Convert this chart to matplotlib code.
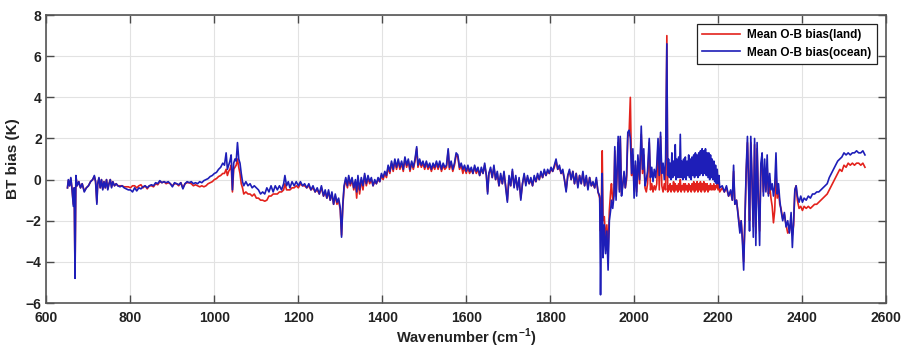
import numpy as np
import matplotlib
matplotlib.use("Agg")
import matplotlib.pyplot as plt

# ---- Mean O-B brightness temperature bias by spectral band ----
# longwave CO2 band
wn_lw = [650, 652, 655, 658, 661, 664, 666, 668, 670, 673, 677, 681, 685, 690, 695,
         700, 705, 710, 714, 717, 720, 722, 725, 728, 731, 734, 737, 740, 743, 746,
         749, 752, 755, 758, 762, 766, 770, 775, 780, 785, 790, 795]
land_lw = [-0.4, -0.05, -0.3, 0.05, -0.5, -1.2, -0.4, -4.6, 0.15, -0.3, -0.1, -0.4,
           -0.2, -0.55, -0.4, -0.3, -0.1, 0.0, 0.15, -0.1, -1.1, -0.2, 0.05, -0.4,
           0.0, -0.45, -0.1, -0.4, 0.0, -0.45, -0.2, 0.0, -0.35, -0.1, -0.3, -0.2,
           -0.3, -0.3, -0.3, -0.35, -0.35, -0.35]
ocean_lw = [-0.4, 0.0, -0.3, 0.1, -0.5, -1.3, -0.4, -4.8, 0.2, -0.3, -0.1, -0.4,
            -0.2, -0.6, -0.4, -0.3, -0.1, 0.0, 0.2, -0.1, -1.2, -0.2, 0.1, -0.4,
            0.0, -0.5, -0.1, -0.4, 0.0, -0.5, -0.2, 0.0, -0.4, -0.1, -0.3, -0.2,
            -0.3, -0.35, -0.3, -0.4, -0.45, -0.5]

# window and ozone region
wn_win = [800, 805, 810, 815, 820, 825, 830, 835, 840, 845, 850, 855, 860, 865, 870,
          875, 880, 885, 890, 895, 900, 905, 910, 915, 920, 925, 930, 935, 940, 945,
          950, 955, 960, 965, 970, 975, 980, 985, 990, 995, 1000, 1005, 1010, 1015,
          1020, 1024, 1028, 1031, 1034, 1037, 1040, 1043, 1046, 1049, 1052, 1055,
          1058, 1061, 1064, 1067]
land_win = [-0.4, -0.3, -0.3, -0.4, -0.3, -0.25, -0.4, -0.3, -0.45, -0.3, -0.3, -0.35,
            -0.2, -0.25, -0.1, -0.15, -0.1, -0.2, -0.15, -0.2, -0.3, -0.2, -0.2, -0.3,
            -0.15, -0.4, -0.2, -0.15, -0.15, -0.2, -0.3, -0.25, -0.3, -0.35, -0.3,
            -0.35, -0.3, -0.2, -0.15, -0.1, 0.0, 0.05, 0.15, 0.2, 0.3, 0.3, 0.5, 0.2,
            0.4, 0.5, 0.7, -0.6, 0.5, 0.6, 0.7, 1.0, 0.6, 0.3, -0.2, -0.4]
ocean_win = [-0.5, -0.6, -0.4, -0.55, -0.4, -0.45, -0.35, -0.3, -0.4, -0.3, -0.25,
             -0.3, -0.15, -0.2, -0.05, -0.15, -0.1, -0.15, -0.1, -0.2, -0.35, -0.15,
             -0.2, -0.25, -0.15, -0.45, -0.2, -0.1, -0.15, -0.1, -0.2, -0.15, -0.2,
             -0.1, -0.15, -0.05, 0.0, 0.05, 0.15, 0.2, 0.3, 0.35, 0.5, 0.6, 0.8, 0.7,
             1.3, 0.5, 0.7, 0.9, 1.2, -0.5, 0.8, 1.0, 0.9, 1.8, 1.0, 0.8, 0.3, -0.1]

# 1070-1400 cm-1
wn_mid = [1070, 1075, 1080, 1085, 1090, 1095, 1100, 1105, 1110, 1115, 1120, 1125, 1130,
          1135, 1140, 1145, 1150, 1155, 1160, 1165, 1168, 1172, 1176, 1180, 1185,
          1190, 1195, 1200, 1205, 1210, 1215, 1220, 1225, 1230, 1235, 1240, 1245,
          1250, 1255, 1260, 1264, 1268, 1272, 1276, 1280, 1284, 1288, 1292, 1296,
          1300, 1303, 1306, 1309, 1313, 1317, 1320, 1324, 1328, 1332, 1336, 1339,
          1342, 1346, 1350, 1354, 1358, 1362, 1366, 1370, 1374, 1378, 1382, 1386,
          1390, 1394, 1398]
land_mid = [-0.7, -0.6, -0.7, -0.7, -0.8, -0.7, -0.9, -0.9, -1.0, -1.0, -1.05, -1.0,
            -0.8, -0.8, -0.7, -0.7, -0.7, -0.6, -0.6, -0.5, -0.2, -0.5, -0.5, -0.5,
            -0.4, -0.4, -0.3, -0.4, -0.2, -0.3, -0.3, -0.4, -0.3, -0.5, -0.4, -0.6,
            -0.5, -0.7, -0.4, -0.8, -0.6, -0.9, -0.6, -1.0, -0.7, -1.2, -0.8, -1.2,
            -1.0, -1.5, -2.7, -1.3, -0.4, 0.0, -0.4, 0.1, -0.3, 0.0, -0.5, -0.1, -0.9,
            0.0, -0.7, 0.0, -0.5, 0.2, -0.3, 0.1, -0.2, 0.0, -0.3, -0.1, -0.2, 0.0,
            -0.1, 0.2]
ocean_mid = [-0.3, -0.1, -0.3, -0.2, -0.4, -0.3, -0.4, -0.5, -0.7, -0.6, -0.7, -0.4,
             -0.6, -0.3, -0.6, -0.3, -0.5, -0.3, -0.5, -0.2, 0.2, -0.3, -0.1, -0.4,
             -0.1, -0.3, -0.1, -0.3, -0.1, -0.3, -0.2, -0.4, -0.2, -0.5, -0.3, -0.6,
             -0.4, -0.7, -0.3, -0.8, -0.5, -0.9, -0.5, -1.0, -0.6, -1.2, -0.7, -1.1,
             -0.9, -1.4, -2.8, -1.2, -0.3, 0.1, -0.3, 0.2, -0.2, 0.1, -0.4, 0.0, -0.6,
             0.2, -0.5, 0.1, -0.3, 0.3, -0.2, 0.2, -0.1, 0.1, -0.3, 0.0, -0.2, 0.1,
             -0.1, 0.3]

# water vapour band
wn_h2o = [1402, 1406, 1410, 1414, 1418, 1422, 1426, 1430, 1434, 1438, 1442, 1446,
          1450, 1454, 1458, 1462, 1466, 1470, 1474, 1478, 1482, 1485, 1489, 1493,
          1497, 1501, 1505, 1509, 1513, 1517, 1521, 1525, 1529, 1533, 1537, 1541,
          1545, 1549, 1553, 1557, 1560, 1564, 1568, 1572, 1576, 1580, 1584, 1588,
          1592, 1596, 1600, 1604, 1608, 1612, 1616, 1620, 1624, 1628, 1632, 1636,
          1640, 1644, 1648, 1651, 1654, 1658, 1662, 1666, 1670, 1674, 1678, 1682,
          1686, 1690, 1694, 1698, 1702, 1706, 1710, 1714, 1718, 1722, 1726, 1730,
          1734, 1738, 1742, 1746, 1750, 1754, 1758, 1762, 1766, 1770, 1774, 1778,
          1782, 1786, 1790, 1794, 1798, 1802, 1806, 1810, 1814, 1818, 1822, 1826,
          1830, 1834, 1838, 1842, 1846, 1850, 1854, 1858, 1862, 1866, 1870, 1874,
          1878, 1882, 1886, 1890, 1894, 1898]
land_h2o = [0.0, 0.3, 0.1, 0.6, 0.3, 0.8, 0.4, 0.9, 0.5, 0.9, 0.5, 0.8, 0.4, 1.0, 0.6,
            0.9, 0.4, 0.8, 0.5, 0.9, 1.5, 0.6, 0.9, 0.6, 0.8, 0.5, 0.8, 0.5, 0.7, 0.4,
            0.7, 0.5, 0.8, 0.5, 0.8, 0.4, 0.7, 0.5, 0.6, 1.4, 0.5, 0.8, 0.4, 0.7, 1.2,
            1.1, 0.5, 0.7, 0.3, 0.6, 0.3, 0.6, 0.3, 0.5, 0.3, 0.6, 0.3, 0.5, 0.2, 0.5,
            0.3, 0.7, 0.2, -0.6, 0.3, 0.5, 0.1, 0.6, 0.0, 0.3, -0.3, 0.2, -0.2, 0.3,
            -0.3, -1.0, 0.1, -0.3, 0.4, -0.3, 0.1, -0.4, 0.0, -0.9, -0.2, 0.2, -0.2,
            0.1, -0.2, 0.0, -0.3, 0.1, -0.1, 0.2, 0.0, 0.3, 0.1, 0.4, 0.2, 0.4, 0.3,
            0.5, 0.4, 0.6, 0.9, 0.5, 0.6, 0.3, 0.4, 0.0, -0.5, 0.2, 0.4, 0.0, 0.4,
            -0.2, 0.3, -0.3, 0.2, -0.2, 0.3, -0.3, 0.1, -0.4, 0.1, -0.3]
ocean_h2o = [0.1, 0.4, 0.2, 0.7, 0.4, 0.9, 0.5, 1.0, 0.6, 1.0, 0.6, 0.9, 0.5, 1.1, 0.7,
             1.0, 0.5, 0.9, 0.6, 1.0, 1.6, 0.7, 1.0, 0.7, 0.9, 0.6, 0.9, 0.6, 0.8, 0.5,
             0.8, 0.6, 0.9, 0.6, 0.9, 0.5, 0.8, 0.6, 0.7, 1.5, 0.6, 0.9, 0.5, 0.8, 1.3,
             1.2, 0.6, 0.8, 0.5, 0.7, 0.4, 0.7, 0.4, 0.6, 0.3, 0.7, 0.4, 0.6, 0.2, 0.6,
             0.3, 0.8, 0.2, -0.7, 0.3, 0.6, 0.1, 0.7, 0.0, 0.4, -0.3, 0.3, -0.2, 0.4,
             -0.4, -1.1, 0.2, -0.3, 0.5, -0.4, 0.2, -0.5, 0.1, -1.0, -0.2, 0.3, -0.3,
             0.2, -0.2, 0.1, -0.3, 0.2, -0.1, 0.3, 0.0, 0.4, 0.1, 0.5, 0.2, 0.5, 0.3,
             0.6, 0.4, 0.7, 1.0, 0.5, 0.7, 0.3, 0.5, 0.0, -0.6, 0.2, 0.5, 0.0, 0.4,
             -0.2, 0.3, -0.4, 0.2, -0.2, 0.4, -0.3, 0.2, -0.5, 0.1, -0.3]

# shortwave band, 1900-2080 cm-1
wn_sw = [1902, 1906, 1910, 1914, 1918, 1920, 1922, 1924, 1926, 1929,
         1932, 1935, 1938, 1941, 1944, 1946, 1949, 1952, 1954, 1957,
         1960, 1962, 1965, 1967, 1970, 1973, 1976, 1979, 1982, 1985,
         1988, 1991, 1994, 1997, 2000, 2003, 2006, 2009, 2013, 2017,
         2020, 2023, 2026, 2029, 2032, 2036, 2039, 2042, 2045, 2048,
         2051, 2054, 2057, 2060, 2063, 2066, 2069, 2072, 2075, 2078]
land_sw = [-0.2, -0.4, 0.0, -0.6, -0.9, -2.5, -1.0, 1.4, -2.0, -1.8,
           -3.0, -2.2, -3.5, -1.5, -0.6, -0.2, -1.0, -0.6, 1.4, -0.8,
           0.5, 1.8, -0.5, 2.0, -0.7, -0.2, 0.3, -0.4, 0.0, 2.1,
           2.2, 4.0, 0.2, 1.2, -0.5, 0.7, -0.6, 1.0, -0.2, 2.2,
           0.3, 1.2, -0.4, -0.6, -0.2, 1.8, -0.5, -0.2, -0.6, -0.3,
           -0.5, -0.2, 1.8, -0.5, 2.1, -0.3, -0.6, -0.2, -0.5, 7.0]
ocean_sw = [-0.1, -0.4, 0.1, -0.6, -0.8, -5.6, -2.0, 0.3, -3.8, -2.2,
            -3.6, -2.5, -4.4, -2.0, -1.5, -1.0, -1.4, -0.8, 1.6, -1.0,
            0.8, 2.1, -0.6, 2.1, -0.8, -0.3, 0.4, -0.4, 0.2, 2.3,
            2.4, 2.0, 0.3, 1.5, -0.9, 0.9, -0.8, 1.2, 0.0, 2.6,
            0.5, 1.5, -0.3, 0.0, 0.4, 2.0, 0.1, 0.6, -0.1, 0.5,
            0.1, 0.7, 2.0, 0.2, 2.3, 0.3, 0.8, 0.0, 1.0, 6.6]

# shortwave band, 2080-2204 cm-1
wn_sw2 = [2080, 2082, 2084, 2086, 2088, 2090, 2092, 2094, 2096, 2098,
          2100, 2102, 2104, 2106, 2108, 2110, 2112, 2114, 2116, 2118,
          2120, 2122, 2124, 2126, 2128, 2130, 2132, 2134, 2136, 2138,
          2140, 2142, 2144, 2146, 2148, 2150, 2152, 2154, 2156, 2158,
          2160, 2162, 2164, 2166, 2168, 2170, 2172, 2174, 2176, 2178,
          2180, 2182, 2184, 2186, 2188, 2190, 2192, 2194, 2196, 2198,
          2200, 2202, 2204]
land_sw2 = [-0.6, -0.3, -0.5, -0.2, -0.6, -0.3, -0.5, -0.1, -0.6, -0.2,
            -0.5, -0.3, -0.6, -0.2, -0.5, 0.0, -0.6, -0.3, -0.5, -0.2,
            -0.6, -0.2, -0.5, -0.3, -0.6, -0.2, -0.5, -0.3, -0.6, -0.2,
            -0.5, -0.1, -0.6, -0.2, -0.5, -0.1, -0.6, -0.2, -0.5, -0.1,
            -0.6, -0.2, -0.5, -0.1, -0.6, -0.2, -0.5, -0.2, -0.6, -0.3,
            -0.5, -0.2, -0.5, -0.3, -0.5, -0.2, -0.5, -0.3, -0.4, -0.2,
            -0.5, -0.2, -0.6]
ocean_sw2 = [0.2, 1.0, 0.1, 0.8, 0.0, 1.3, 0.1, 0.9, 0.2, 1.7,
             0.0, 1.0, 0.1, 1.1, 0.1, 2.2, 0.1, 0.9, 0.0, 1.0,
             0.1, 1.1, 0.0, 0.9, 0.2, 1.2, 0.1, 1.0, 0.0, 1.1,
             0.2, 1.2, 0.1, 1.3, 0.2, 1.2, 0.1, 1.3, 0.2, 1.4,
             0.3, 1.5, 0.2, 1.4, 0.3, 1.5, 0.2, 1.3, 0.1, 1.3,
             0.0, 1.2, 0.1, 1.0, 0.0, 0.9, -0.1, 0.7, -0.2, 0.5,
             -0.2, 0.2, -0.4]

# 2210-2550 cm-1
wn_co2 = [2210, 2215, 2220, 2225, 2230, 2234, 2237, 2240, 2244, 2248, 2252, 2255, 2258,
          2261, 2264, 2267, 2270, 2273, 2275, 2278, 2281, 2284, 2287, 2290, 2293, 2296,
          2299, 2302, 2305, 2308, 2311, 2314, 2317, 2320, 2323, 2326, 2329, 2332, 2335,
          2338, 2341, 2344, 2347, 2350, 2354, 2358, 2362, 2366, 2370, 2374, 2377, 2380,
          2383, 2386, 2389, 2393, 2397, 2401, 2405, 2410, 2415, 2420, 2425, 2430, 2435,
          2440, 2445, 2450, 2455, 2460, 2465, 2470, 2475, 2480, 2485, 2490, 2495, 2500,
          2505, 2510, 2515, 2520, 2525, 2530, 2535, 2540, 2545, 2550]
land_co2 = [-0.4, -0.6, -0.4, -0.8, -0.6, -1.0, 0.4, -1.2, -1.0, -1.7, -2.4, -2.0, -2.8,
            -4.0, -2.0, 0.3, 1.8, -0.3, -2.0, 1.8, -0.2, -2.3, 1.7, -2.6, 1.5, -0.8,
            -2.5, 0.5, 0.9, -0.6, 0.5, -0.5, 0.6, -0.7, -0.3, -0.9, -1.3, -2.1, -1.5,
            0.3, -0.9, -0.5, -1.2, -1.4, -1.9, -1.7, -2.2, -2.6, -2.5, -2.0, -2.7, -2.2,
            -0.5, -0.3, -1.0, -1.4, -1.3, -1.5, -1.3, -1.4, -1.3, -1.4, -1.3, -1.2, -1.2,
            -1.1, -1.0, -0.9, -0.8, -0.7, -0.5, -0.3, -0.1, 0.1, 0.3, 0.5, 0.4, 0.7,
            0.6, 0.8, 0.7, 0.8, 0.7, 0.8, 0.8, 0.7, 0.8, 0.6]
ocean_co2 = [-0.3, -0.6, -0.3, -0.8, -0.5, -1.0, 0.7, -1.2, -1.0, -1.8, -2.6, -2.0, -3.0,
             -4.4, -2.0, 0.5, 2.1, -0.5, -2.5, 2.1, 0.0, -2.8, 2.0, -3.2, 1.8, -1.0,
             -3.2, 0.8, 1.3, -0.8, 1.0, -0.6, 1.2, -0.8, 0.3, -0.5, -0.2, -0.8, -0.3,
             1.3, -0.7, -0.2, -1.0, -1.5, -2.0, -1.6, -2.3, -2.0, -2.6, -1.6, -3.3, -2.0,
             -0.5, -0.3, -0.8, -1.1, -0.8, -1.1, -0.9, -1.0, -0.8, -0.9, -0.7, -0.7, -0.6,
             -0.6, -0.5, -0.4, -0.3, -0.2, 0.1, 0.3, 0.5, 0.7, 0.9, 1.0, 1.1, 1.3, 1.2,
             1.3, 1.2, 1.3, 1.3, 1.4, 1.3, 1.3, 1.4, 1.2]

wavenumber = np.concatenate([wn_lw, wn_win, wn_mid, wn_h2o, wn_sw, wn_sw2, wn_co2])
bias_land = np.concatenate([land_lw, land_win, land_mid, land_h2o, land_sw, land_sw2,
                            land_co2])
bias_ocean = np.concatenate([ocean_lw, ocean_win, ocean_mid, ocean_h2o, ocean_sw,
                             ocean_sw2, ocean_co2])

x_ticks = [600, 800, 1000, 1200, 1400, 1600, 1800, 2000, 2200, 2400, 2600]
y_ticks = [-6, -4, -2, 0, 2, 4, 6, 8]

plt.rcParams['font.family'] = ['Liberation Sans', 'DejaVu Sans']
plt.rcParams['font.weight'] = 'bold'
plt.rcParams['mathtext.fontset'] = 'custom'
plt.rcParams['mathtext.bf'] = 'Liberation Sans:bold'
plt.rcParams['mathtext.rm'] = 'Liberation Sans:bold'

fig = plt.figure(figsize=(9.01, 3.49), dpi=100)
ax = fig.add_axes([0.0516, 0.1318, 0.9317, 0.825])

ax.plot(wavenumber, bias_land, color='#e3221c', lw=1.2, label='Mean O-B bias(land)')
ax.plot(wavenumber, bias_ocean, color='#1e1eb8', lw=1.2, label='Mean O-B bias(ocean)')

ax.set_xlim(600, 2600)
ax.set_ylim(-6, 8)
ax.set_xticks(x_ticks)
ax.set_yticks(y_ticks)
ax.grid(True, color='#e2e2e2', lw=0.8)
ax.set_axisbelow(True)
ax.tick_params(direction='in', length=6, width=1.0, colors='#4a4a4a',
               labelcolor='#222222', labelsize=10, top=True, right=True)
ax.tick_params(axis='x', pad=6.0)
ax.tick_params(axis='y', pad=3.5)
for sp in ax.spines.values():
    sp.set_color('#555555')
    sp.set_linewidth(1.2)

ax.set_xlabel('Wavenumber (cm$^{\\mathbf{-1}}$)', fontsize=10.5, fontweight='bold',
              color='#222222')
ax.xaxis.set_label_coords(0.5, -0.082)
ax.set_ylabel('BT bias (K)', fontsize=11, fontweight='bold', color='#222222',
              labelpad=4)

leg = ax.legend(loc='upper right', bbox_to_anchor=(0.989, 0.969), fontsize=8.5,
                frameon=True, fancybox=False, edgecolor='#222222', framealpha=1,
                handlelength=3.2, borderaxespad=0, borderpad=0.45,
                labelspacing=0.45, handletextpad=0.6)
leg.get_frame().set_linewidth(0.9)
for t in leg.get_texts():
    t.set_fontweight('bold')

fig.savefig('out.png', dpi=100)
